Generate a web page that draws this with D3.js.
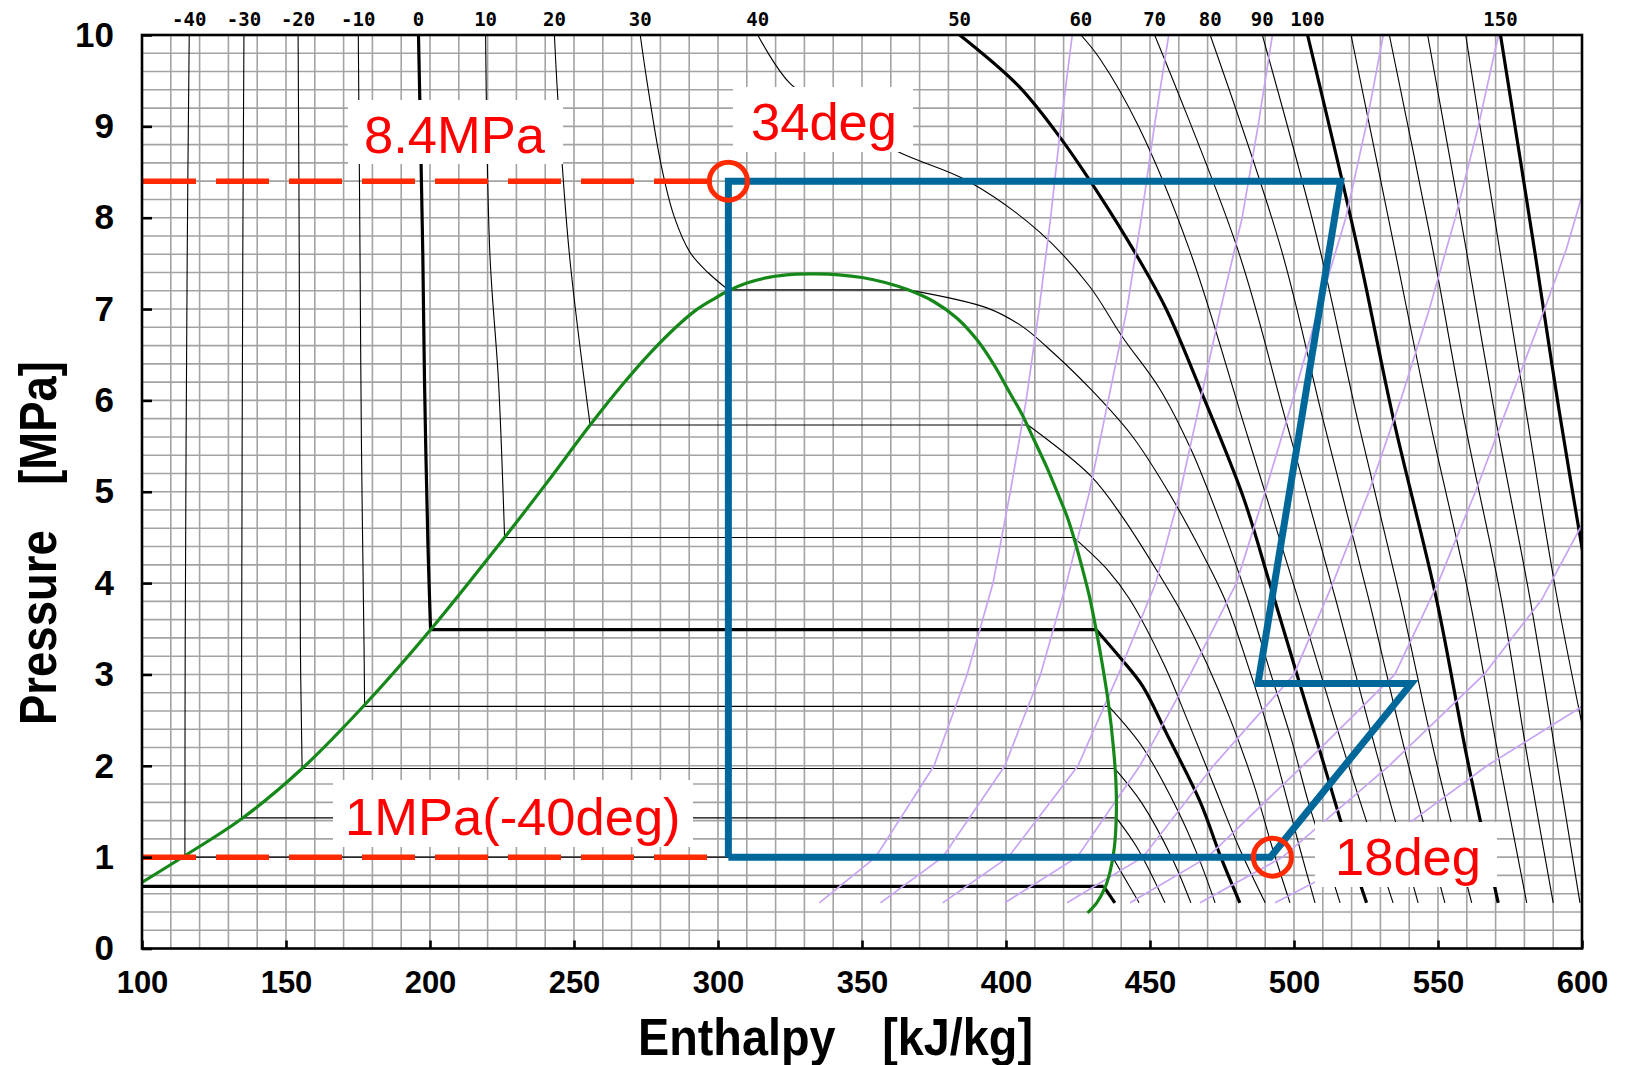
<!DOCTYPE html>
<html>
<head>
<meta charset="utf-8">
<script src="https://cdn.jsdelivr.net/npm/d3@7"></script>
<style>
  html, body { margin: 0; padding: 0; background: #fff; }
  svg { display: block; }
</style>
</head>
<body>
<svg id="chart" width="1625" height="1065"></svg>
<script>
// ---------- CO2 pressure-enthalpy chart data ----------
// enthalpy h [kJ/kg], pressure P [MPa]

const hTicks = [100, 150, 200, 250, 300, 350, 400, 450, 500, 550, 600];
const pTicks = [0, 1, 2, 3, 4, 5, 6, 7, 8, 9, 10];
const topLabelTemps = [-40, -30, -20, -10, 0, 10, 20, 30, 40, 50, 60, 70, 80, 90, 100, 150];

// saturation dome [h, P], liquid side up to the critical region, then vapour side down
const satDome = [
  [99.3, 0.71], [116.1, 1.04], [134.6, 1.42], [155.6, 1.97], [177.1, 2.66],
  [200.2, 3.49], [225.9, 4.5], [240.6, 5.1], [255.6, 5.73], [266.5, 6.16],
  [276.5, 6.52], [285, 6.79], [292, 6.98], [298, 7.1], [303.6, 7.2],
  [310, 7.285], [318, 7.35], [326, 7.38], [334, 7.385], [342, 7.375],
  [350, 7.345], [358, 7.29], [366, 7.21], [375, 7.08], [383, 6.9],
  [390, 6.66], [396, 6.38], [401, 6.1], [405.5, 5.85], [410, 5.55],
  [414, 5.28], [418, 4.98], [421.3, 4.72], [424, 4.45], [426.6, 4.15],
  [429, 3.85], [431.3, 3.49], [433.5, 3.1], [435.5, 2.7], [437.3, 2.2],
  [438.2, 1.8], [438.3, 1.45], [437.6, 1.1], [436.2, 0.85], [434.3, 0.66],
  [431.5, 0.5], [428.3, 0.39]
];

// saturation temperatures, pressures and liquid / vapour enthalpies
const satT  = [-50, -40, -30, -20, -10, 0, 10, 20, 30];
const satP  = [0.68, 1.0, 1.43, 1.97, 2.65, 3.49, 4.5, 5.73, 7.21];
const satHl = [92, 114.9, 134.6, 155.6, 177.3, 200.2, 225.9, 255.6, 303.6];
const satHv = [433.9, 437.0, 438.3, 437.8, 435.7, 431.3, 423.5, 407.6, 366];

// compressed-liquid branches of the isotherms, from 10 MPa down to saturation
const liquidBranches = [
  { t: -40, pts: [[116.4, 10], [115.7, 7.6], [115.0, 3.3], [114.9, 1.0]] },
  { t: -30, pts: [[135.4, 10], [135.0, 7.6], [134.6, 3.3], [134.6, 1.43]] },
  { t: -20, pts: [[154.2, 10], [154.6, 7.6], [155.0, 3.3], [155.6, 1.97]] },
  { t: -10, pts: [[175.1, 10], [175.7, 7.6], [176.2, 5.5], [177.1, 3.3], [177.3, 2.65]] },
  { t: 0,   pts: [[196, 10], [197.5, 7.6], [198.1, 6.2], [199.3, 4.4], [200.2, 3.49]] },
  { t: 10,  pts: [[219.3, 10], [220.8, 7.6], [223.8, 6.2], [225.9, 4.5]] },
  { t: 20,  pts: [[243.2, 10], [244.4, 9.3], [248.4, 7.6], [255.6, 5.73]] },
  { t: 30,  pts: [[273, 10], [275.3, 9.5], [280.3, 8.57], [284.7, 8.02], [290.3, 7.62], [296.5, 7.40], [303.6, 7.21]] }
];

// superheated / supercritical branches of the isotherms
const vaporBranches = [
  { t: -50, pts: [[433.9, 0.68], [437.8, 0.5]] },
  { t: -40, pts: [[437.0, 1.0], [441.6, 0.75], [446.2, 0.5]] },
  { t: -30, pts: [[438.3, 1.43], [445.6, 1.1], [455.2, 0.5]] },
  { t: -20, pts: [[437.8, 1.97], [447, 1.6], [457.5, 1.0], [464.2, 0.5]] },
  { t: -10, pts: [[435.7, 2.65], [447.5, 2.2], [459.8, 1.5], [466.8, 1.0], [472.6, 0.5]] },
  { t: 0,   pts: [[431.3, 3.49], [440.3, 3.16], [447.5, 2.87], [455.8, 2.35], [467.5, 1.6], [474.6, 1.0], [481.2, 0.5]] },
  { t: 10,  pts: [[423.5, 4.5], [435.4, 4.14], [443, 3.82], [455, 3.1], [463, 2.5], [472, 1.8], [481, 1.1], [490, 0.5]] },
  { t: 20,  pts: [[407.6, 5.73], [429.5, 5.17], [440.3, 4.73], [452.3, 4.14], [461.8, 3.63], [470, 3.1], [478, 2.5], [486, 1.8], [492.5, 1.1], [498.6, 0.5]] },
  { t: 30,  pts: [[366, 7.21], [393.6, 7.01], [405.6, 6.81], [414, 6.59], [429.5, 6.12], [443.8, 5.61], [456, 5.02], [467.6, 4.36], [476, 3.82], [484, 3.1], [491, 2.4], [497, 1.7], [502, 1.1], [507.3, 0.5]] },
  { t: 40,  pts: [[313.8, 10], [325, 9.47], [343, 9.1], [362, 8.73], [386.9, 8.4], [411.8, 7.84], [429, 7.25], [440.3, 6.7], [453.5, 6.12], [464.3, 5.46], [474, 4.7], [484, 3.82], [492, 3.0], [499, 2.3], [505, 1.6], [510, 1.1], [516, 0.5]] },
  { t: 50,  pts: [[383.9, 10], [404.4, 9.44], [419.2, 8.86], [432.6, 8.24], [444.2, 7.65], [455.6, 7.0], [468, 6.08], [482.4, 4.94], [492, 3.95], [501.5, 2.95], [511, 1.95], [520, 1.0], [525.2, 0.5]] },
  { t: 60,  pts: [[426, 10], [432.6, 9.74], [446, 9.0], [463.7, 7.65], [483, 5.7], [501.5, 3.82], [518, 2.1], [534.4, 0.5]] },
  { t: 70,  pts: [[451.6, 10], [480.5, 7.65], [497, 5.8], [514.5, 3.82], [529, 2.1], [543.1, 0.5]] },
  { t: 80,  pts: [[470.9, 10], [495.6, 7.65], [510, 5.8], [526, 3.82], [539, 2.1], [552.4, 0.5]] },
  { t: 90,  pts: [[489, 10], [509, 7.65], [522, 5.8], [537, 3.82], [549, 2.1], [561.7, 0.5]] },
  { t: 100, pts: [[504.7, 10], [522.2, 7.65], [534.5, 5.8], [549.5, 3.82], [560, 2.1], [570.9, 0.5]] },
  { t: 110, pts: [[519.8, 10], [535, 7.65], [547, 5.8], [561, 3.82], [571, 2.1], [580.8, 0.5]] },
  { t: 120, pts: [[533.1, 10], [548.2, 7.65], [559, 5.8], [572, 3.82], [581, 2.1], [590, 0.5]] },
  { t: 130, pts: [[546.4, 10], [559.8, 7.65], [570, 5.8], [582, 3.82], [591, 2.1], [599.3, 0.5]] },
  { t: 140, pts: [[559.6, 10], [571.4, 7.65], [581, 5.8], [591, 3.9], [601, 2.3]] },
  { t: 150, pts: [[571.7, 10], [583.5, 7.65], [592, 5.9], [601, 4.2]] }
];

// isentropes [h, P]
const isentropes = [
  [[335.2, 0.5], [354.7, 1], [375, 2], [386.5, 3], [395.5, 4], [401.5, 5], [407, 6], [411.5, 7], [415.5, 8], [419, 9], [423, 10]],
  [[356.4, 0.5], [378, 1], [399.6, 2], [412, 3], [421, 4], [429, 5], [435.5, 6], [442, 7], [447, 8], [451.5, 9], [456.5, 10]],
  [[378, 0.5], [400.8, 1], [425, 2], [439, 3], [452, 4], [460.5, 5], [467.5, 6], [474.5, 7], [482, 8], [487.5, 9], [492.5, 10]],
  [[399.6, 0.5], [424.7, 1], [446.5, 2], [464, 3], [480, 4], [490, 5], [499.5, 6], [508.5, 7], [518, 8], [525, 9], [531, 10]],
  [[421.2, 0.5], [447.5, 1], [472, 2], [500, 3], [513.5, 4], [526, 5], [537, 6], [547, 7], [556, 8], [564, 9], [571, 10]],
  [[443.1, 0.5], [470, 1], [503, 2], [535, 3], [550, 4], [563, 5], [575, 6], [587, 7], [594.5, 7.65], [600, 8.24]],
  [[467.4, 0.5], [496, 1], [533, 2], [566, 3], [586, 3.82], [600, 4.64]],
  [[493.4, 0.5], [524, 1], [567, 2], [600, 2.65]]
];

// refrigeration cycle [h, P]
const cycle = [
  [303.6, 1.0], [303.6, 8.4], [516.2, 8.4], [487.5, 2.9], [540.7, 2.9], [491.8, 1.0], [303.6, 1.0]
];

// marked states and their annotations
const highP = 8.4, lowP = 1.0;
const markers = [[303.6, 8.4], [492.5, 1.0]];
const notes = [
  { text: "8.4MPa",       box: [348, 100, 215, 64], tx: 364,  ty: 153 },
  { text: "34deg",        box: [733, 87, 180, 65],  tx: 751,  ty: 140 },
  { text: "1MPa(-40deg)", box: [333, 780, 360, 67], tx: 345,  ty: 835 },
  { text: "18deg",        box: [1315, 822, 182, 65], tx: 1335, ty: 875 }
];

// ---------- drawing ----------
const svg = d3.select("#chart");
svg.append("rect").attr("width", 1625).attr("height", 1065).attr("fill", "#fff");

const x = d3.scaleLinear().domain([100, 600]).range([142, 1582]);
const y = d3.scaleLinear().domain([0, 10]).range([948.5, 35]);

const smooth = d3.line().x(d => x(d[0])).y(d => y(d[1])).curve(d3.curveCatmullRom.alpha(0.5));
const straight = d3.line().x(d => x(d[0])).y(d => y(d[1]));

svg.append("defs").append("clipPath").attr("id", "plotArea")
  .append("rect")
  .attr("x", x(100)).attr("y", y(10))
  .attr("width", x(600) - x(100)).attr("height", y(0) - y(10));

const plot = svg.append("g").attr("clip-path", "url(#plotArea)");

// fine grid: 10 kJ/kg and 0.2 MPa
const gridH = d3.range(11, 60).map(i => i * 10);
const gridP = d3.range(1, 50).map(i => +(i * 0.2).toFixed(1));
plot.append("g").selectAll("line").data(gridH).join("line")
  .attr("x1", d => x(d)).attr("x2", d => x(d))
  .attr("y1", y(10)).attr("y2", y(0))
  .attr("stroke", "#a3a3a3").attr("stroke-width", 1.6);
plot.append("g").selectAll("line").data(gridP).join("line")
  .attr("x1", x(100)).attr("x2", x(600))
  .attr("y1", d => y(d)).attr("y2", d => y(d))
  .attr("stroke", "#a3a3a3").attr("stroke-width", 1.6);

const isoWidth = t => (t % 50 === 0 ? 3.2 : 1.1);

// isotherms: liquid branch, two-phase plateau, vapour branch
const iso = plot.append("g").attr("fill", "none").attr("stroke", "#000");
iso.selectAll("path.liq").data(liquidBranches).join("path")
  .attr("class", "liq")
  .attr("d", d => smooth(d.pts))
  .attr("stroke-width", d => isoWidth(d.t));
iso.selectAll("path.sat").data(satT.map((t, i) => ({ t, p: satP[i], hl: satHl[i], hv: satHv[i] }))).join("path")
  .attr("class", "sat")
  .attr("d", d => straight([[d.hl, d.p], [d.hv, d.p]]))
  .attr("stroke-width", d => isoWidth(d.t));
iso.selectAll("path.vap").data(vaporBranches).join("path")
  .attr("class", "vap")
  .attr("d", d => smooth(d.pts))
  .attr("stroke-width", d => isoWidth(d.t));

// isentropes
plot.append("g").selectAll("path").data(isentropes).join("path")
  .attr("d", straight)
  .attr("fill", "none").attr("stroke", "#c8a4f4").attr("stroke-width", 1.7);

// saturation dome
plot.append("path").datum(satDome)
  .attr("d", smooth)
  .attr("fill", "none").attr("stroke", "#16881a").attr("stroke-width", 3.2);

// annotation backgrounds
svg.append("g").selectAll("rect").data(notes).join("rect")
  .attr("x", d => d.box[0]).attr("y", d => d.box[1])
  .attr("width", d => d.box[2]).attr("height", d => d.box[3])
  .attr("fill", "#fff");

// cycle
svg.append("path").datum(cycle)
  .attr("d", straight)
  .attr("fill", "none").attr("stroke", "#00679b").attr("stroke-width", 7)
  .attr("stroke-linejoin", "miter");

// dashed pressure markers
const dashEnd = x(cycle[0][0]) - 19;
svg.append("g").selectAll("line").data([highP, lowP]).join("line")
  .attr("x1", x(100) + 1).attr("x2", dashEnd)
  .attr("y1", d => y(d)).attr("y2", d => y(d))
  .attr("stroke", "#ff2a00").attr("stroke-width", 5.5)
  .attr("stroke-dasharray", "53,20");

// state markers
svg.append("g").selectAll("circle").data(markers).join("circle")
  .attr("cx", d => x(d[0])).attr("cy", d => y(d[1])).attr("r", 19)
  .attr("fill", "none").attr("stroke", "#ff2a00").attr("stroke-width", 5);

// annotation text
svg.append("g").selectAll("text").data(notes).join("text")
  .attr("x", d => d.tx).attr("y", d => d.ty)
  .attr("font-family", "'Liberation Sans', Arial, sans-serif")
  .attr("font-size", 52.5).attr("fill", "#ff0000")
  .text(d => d.text);

// frame
svg.append("rect")
  .attr("x", x(100)).attr("y", y(10))
  .attr("width", x(600) - x(100)).attr("height", y(0) - y(10))
  .attr("fill", "none").attr("stroke", "#000").attr("stroke-width", 2.6);

// axes
const axisFont = "'Liberation Sans', Arial, sans-serif";
const xAxis = svg.append("g").attr("transform", `translate(0,${y(0)})`)
  .call(d3.axisBottom(x).tickValues(hTicks).tickSize(-8).tickPadding(22));
const yAxis = svg.append("g").attr("transform", `translate(${x(100)},0)`)
  .call(d3.axisLeft(y).tickValues(pTicks).tickSize(-10).tickPadding(28));
[xAxis, yAxis].forEach(a => {
  a.select(".domain").remove();
  a.selectAll("line").attr("stroke", "#000").attr("stroke-width", 2.6);
  a.selectAll("text").attr("font-family", axisFont).attr("font-weight", "bold").attr("fill", "#000");
});
xAxis.selectAll("text").attr("font-size", 31);
yAxis.selectAll("text").attr("font-size", 35);

// isotherm temperature labels along the top edge
const topH = new Map();
liquidBranches.concat(vaporBranches).forEach(b => {
  if (b.pts[0][1] === 10) topH.set(b.t, b.pts[0][0]);
});
svg.append("g").selectAll("text").data(topLabelTemps).join("text")
  .attr("x", t => x(topH.get(t)))
  .attr("y", 26)
  .attr("text-anchor", "middle")
  .attr("font-family", "'DejaVu Sans Mono', monospace").attr("font-weight", "bold").attr("font-size", 19)
  .text(t => t);

// axis titles
svg.append("text")
  .attr("x", 638).attr("y", 1055)
  .attr("font-family", axisFont).attr("font-weight", "bold").attr("font-size", 52)
  .attr("textLength", 395).attr("lengthAdjust", "spacingAndGlyphs")
  .text("Enthalpy\u3000[kJ/kg]");
svg.append("text")
  .attr("transform", "translate(56,725) rotate(-90)")
  .attr("font-family", axisFont).attr("font-weight", "bold").attr("font-size", 52)
  .attr("textLength", 364).attr("lengthAdjust", "spacingAndGlyphs")
  .text("Pressure\u3000[MPa]");
</script>
</body>
</html>
